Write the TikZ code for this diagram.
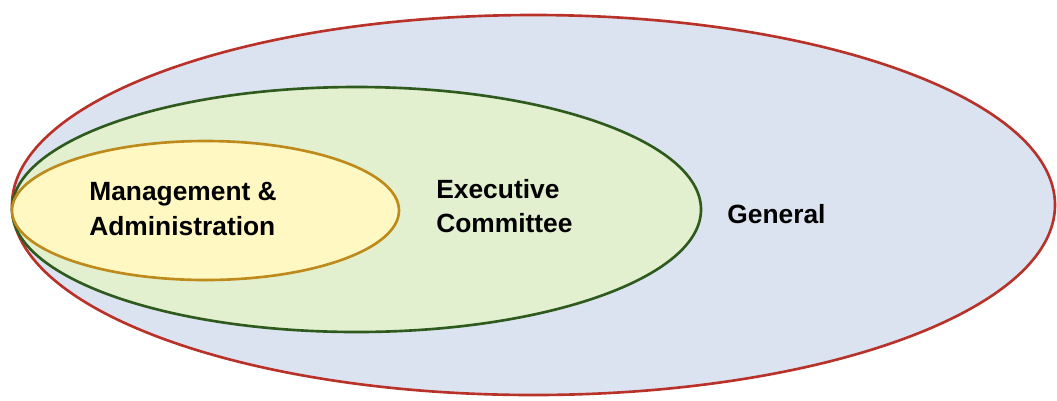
\documentclass[tikz,border=0pt]{standalone}
\usepackage{fontspec}
\setmainfont{Liberation Sans}
\definecolor{generalfill}{HTML}{DCE3F0}
\definecolor{generalline}{HTML}{B8322A}
\definecolor{execfill}{HTML}{E2F0CF}
\definecolor{execline}{HTML}{2F5A1E}
\definecolor{mgmtfill}{HTML}{FFF8C2}
\definecolor{mgmtline}{HTML}{BE8A1C}
\begin{document}
\begin{tikzpicture}[x=0.02cm, y=-0.02cm,
	label/.style={font=\bfseries\fontsize{15}{19.4}\selectfont, align=left, inner sep=0pt},
	ring/.style={line width=1.5pt}]
	\useasboundingbox (0,0) rectangle (1057,400);
	\draw[ring, draw=generalline, fill=generalfill] (533.5,205) ellipse (521.5 and 190);
	\draw[ring, draw=execline, fill=execfill] (356.5,209.5) ellipse (344.5 and 122.5);
	\draw[ring, draw=mgmtline, fill=mgmtfill] (205.5,210.5) ellipse (193.5 and 69.5);
	\node[label, anchor=west] (mgmt) at (89,209) {Management \&\\Administration};
	\node[label, anchor=west] (exec) at (436,206) {Executive\\Committee};
	\node[label, anchor=west] (general) at (727,214) {General};
\end{tikzpicture}
\end{document}
